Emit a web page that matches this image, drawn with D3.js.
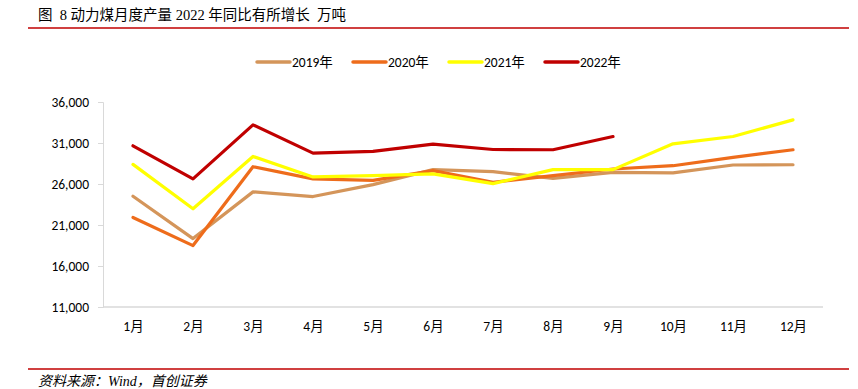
<!DOCTYPE html>
<html><head><meta charset="utf-8">
<script src="https://cdn.jsdelivr.net/npm/d3@7/dist/d3.min.js"></script>
<style>body{margin:0;background:#fff}svg{display:block}text{white-space:pre}</style>
</head><body><svg id="c" width="858" height="389"></svg>
<script>
const months = ["1月","2月","3月","4月","5月","6月","7月","8月","9月","10月","11月","12月"];
const seriesNames = ["2019年","2020年","2021年","2022年"];
const seriesColors = ["#D4955A","#EE6C1B","#FFFF00","#C00000"];
const v2019 = [24510,19340,25040,24470,25930,27750,27510,26690,27420,27350,28320,28350];
const v2020 = [21920,18490,28110,26620,26450,27630,26210,27020,27830,28230,29240,30175];
const v2021 = [28390,22980,29360,26860,27020,27230,26050,27750,27750,30900,31790,33820];
const v2022 = [30660,26620,33210,29770,29970,30870,30210,30175,31790];
const yTicks = [11000,16000,21000,26000,31000,36000];
const titleText = "图  8 动力煤月度产量 2022 年同比有所增长  万吨";
const sourceText = "资料来源：Wind，首创证券";

const svg = d3.select("#c");
const serif = "'Liberation Serif','Noto Sans CJK SC',serif";
const sans = "Calibri,'Liberation Sans','Noto Sans CJK SC',sans-serif";

// title + rules
svg.append("text").attr("x",38).attr("y",20).attr("font-family",serif).attr("font-size",14.5).attr("fill","#000").text(titleText);
svg.append("line").attr("x1",28).attr("x2",849).attr("y1",28).attr("y2",28).attr("stroke","#C00000").attr("stroke-width",1.5);
svg.append("line").attr("x1",28).attr("x2",849).attr("y1",369).attr("y2",369).attr("stroke","#C00000").attr("stroke-width",1.5);
svg.append("text").attr("x",38).attr("y",386).attr("font-family",serif).attr("font-style","italic").attr("font-size",14).attr("fill","#000").text(sourceText);

const x = d3.scalePoint().domain(months).range([103,823]).padding(0.5);
const y = d3.scaleLinear().domain([11000,36000]).range([307,102]);

// y axis
const ya = svg.append("g").attr("transform","translate(103,0)")
  .call(d3.axisLeft(y).tickValues(yTicks).tickSize(5).tickPadding(9).tickFormat(d3.format(",")));
ya.select(".domain").attr("stroke","#D9D9D9");
ya.selectAll(".tick line").attr("stroke","#D9D9D9");
ya.selectAll("text").attr("font-family",sans).attr("font-size",13.5).attr("fill","#000");

// x axis
const xa = svg.append("g").attr("transform","translate(0,307)")
  .call(d3.axisBottom(x).tickSize(0).tickPadding(14));
xa.select(".domain").attr("stroke","#D9D9D9").attr("stroke-width",1.5).attr("d","M103,0H823");
xa.selectAll("text").attr("font-family",sans).attr("font-size",13.5).attr("fill","#000");

const all = [v2019,v2020,v2021,v2022];
const line = d3.line().x((d,i)=>x(months[i])).y(d=>y(d));
all.forEach((vals,k)=>{
  svg.append("path").datum(vals).attr("d",line).attr("fill","none")
    .attr("stroke",seriesColors[k]).attr("stroke-width",3.2)
    .attr("stroke-linejoin","round").attr("stroke-linecap","round");
});

// legend
const lg = svg.append("g");
seriesNames.forEach((n,k)=>{
  const lx = 257 + k*96;
  lg.append("line").attr("x1",lx).attr("x2",lx+33).attr("y1",62).attr("y2",62)
    .attr("stroke",seriesColors[k]).attr("stroke-width",3.5).attr("stroke-linecap","round");
  lg.append("text").attr("x",lx+35).attr("y",67).attr("font-family",sans).attr("font-size",13.5).attr("fill","#000").text(n);
});
</script></body></html>
